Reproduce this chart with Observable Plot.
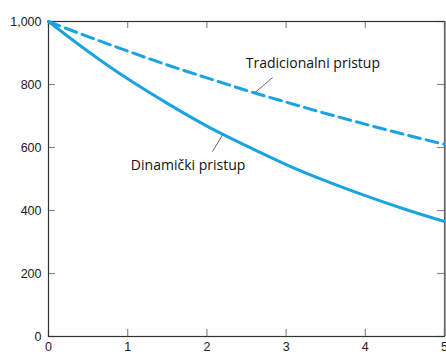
<!DOCTYPE html>
<html>
<head>
<meta charset="utf-8">
<script src="https://cdn.jsdelivr.net/npm/d3@7"></script>
<script src="https://cdn.jsdelivr.net/npm/@observablehq/plot@0.6"></script>
<style>
  html, body { margin: 0; padding: 0; background: #fff; }
  #chart { width: 446px; height: 354px; overflow: hidden; }
</style>
</head>
<body>
<div id="chart"></div>
<script>
// Years (x) and values
const xs = [0, 0.5, 1, 1.5, 2, 2.5, 3, 3.5, 4, 4.5, 5];
const dinamicki = [1000, 905, 818, 740, 668, 605, 546, 494, 447, 404, 365];
const tradicionalni = [1000, 952, 906, 862, 821, 781, 744, 708, 674, 641, 610];
const xTicks = [0, 1, 2, 3, 4, 5];
const yTicks = [0, 200, 400, 600, 800, 1000];

// Annotations: label text, anchor point, leader line
const labelNames = ["Tradicionalni pristup", "Dinamički pristup"];
const labelX = [2.49, 1.04];
const labelY = [867, 543];
const leaderX1 = [2.83, 2.2];
const leaderY1 = [822, 641];
const leaderX2 = [2.61, 2.07];
const leaderY2 = [775, 587];

const dataD = xs.map((x, i) => ({x, y: dinamicki[i]}));
const dataT = xs.map((x, i) => ({x, y: tradicionalni[i]}));
const labels = labelNames.map((t, i) => ({t, x: labelX[i], y: labelY[i]}));
const leaders = labelNames.map((t, i) => ({x1: leaderX1[i], y1: leaderY1[i], x2: leaderX2[i], y2: leaderY2[i]}));

const W = 446, H = 354;
const mL = 48, mR = 2, mT = 21, mB = 18;
const frameW = W - mL - mR, frameH = H - mT - mB;
const blue = "#1aa3e2";
const tick = 7;
const tickColor = "#8a8a8a";

const chart = Plot.plot({
  width: W,
  height: H,
  marginLeft: mL,
  marginRight: mR,
  marginTop: mT,
  marginBottom: mB,
  style: {fontFamily: "'Liberation Sans', Arial, sans-serif", fontSize: "12.5px", color: "#222", background: "#fff"},
  x: {domain: [0, 5]},
  y: {domain: [0, 1000]},
  marks: [
    Plot.axisX(xTicks, {anchor: "bottom", tickSize: 0, tickPadding: 6, fontSize: 12.5, fill: "#222"}),
    Plot.axisY(yTicks, {anchor: "left", tickSize: 0, tickPadding: 7, fontSize: 12.5, fill: "#222", tickFormat: d3.format(",")}),
    Plot.tickX(xTicks, {x: d => d, insetTop: frameH - tick, stroke: tickColor, strokeWidth: 1.2}),
    Plot.tickX(xTicks, {x: d => d, insetBottom: frameH - tick, stroke: tickColor, strokeWidth: 1.2}),
    Plot.tickY(yTicks, {y: d => d, insetRight: frameW - tick, stroke: tickColor, strokeWidth: 1.2}),
    Plot.tickY(yTicks, {y: d => d, insetLeft: frameW - tick, stroke: tickColor, strokeWidth: 1.2}),
    Plot.frame({stroke: "#333", strokeWidth: 1.2}),
    Plot.ruleX([5], {stroke: "#9a9a9a", strokeWidth: 2, dx: 1}),
    Plot.line(dataT, {x: "x", y: "y", stroke: blue, strokeWidth: 3, strokeDasharray: "12,6", curve: "monotone-x"}),
    Plot.line(dataD, {x: "x", y: "y", stroke: blue, strokeWidth: 3, curve: "monotone-x"}),
    Plot.link(leaders, {x1: "x1", y1: "y1", x2: "x2", y2: "y2", stroke: "#444", strokeWidth: 0.8}),
    Plot.text(labels, {x: "x", y: "y", text: "t", textAnchor: "start", fontSize: 14, fill: "#111", fontFamily: "'Open Sans', sans-serif"})
  ]
});
document.getElementById("chart").appendChild(chart);
</script>
</body>
</html>
